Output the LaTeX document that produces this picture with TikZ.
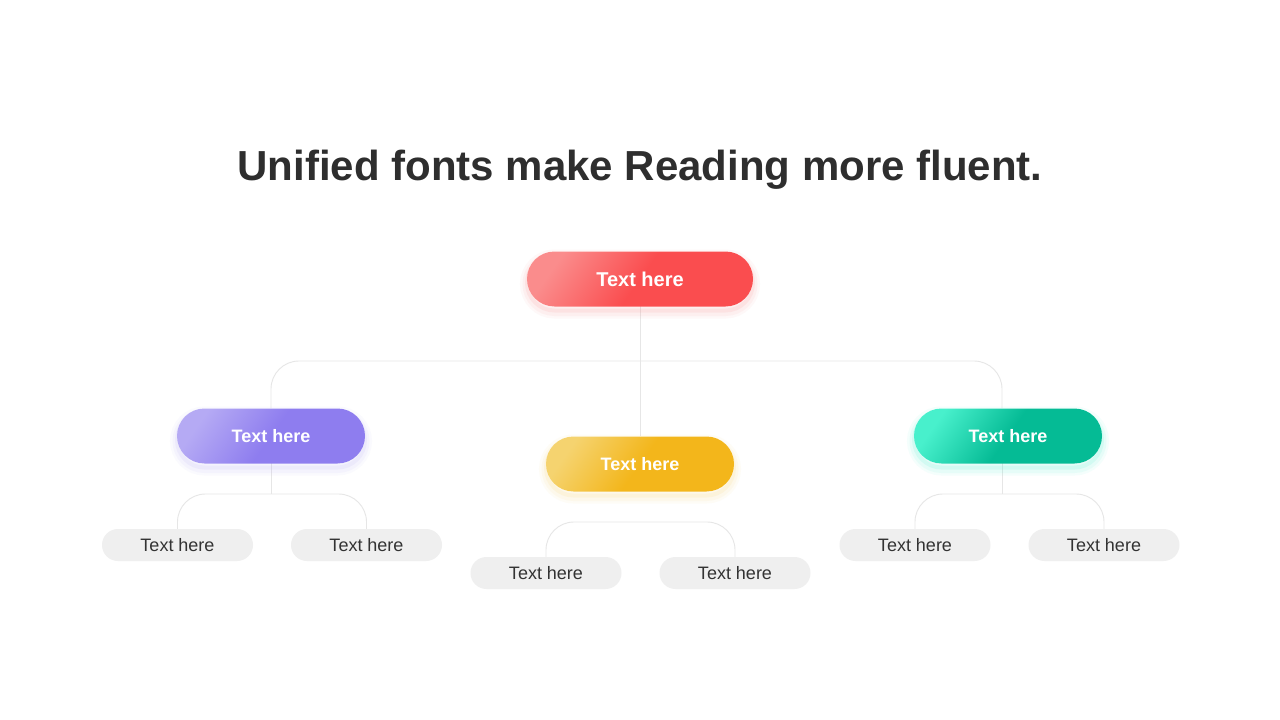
\documentclass[tikz,border=0pt]{standalone}
\usepackage{fontspec}
\setmainfont{Liberation Sans}
\usetikzlibrary{calc}
\definecolor{redL}{HTML}{FA8C8C}
\definecolor{redD}{HTML}{FA4D4F}
\definecolor{purL}{HTML}{B5AAF4}
\definecolor{purD}{HTML}{8E7DEF}
\definecolor{yelL}{HTML}{F5D36F}
\definecolor{yelD}{HTML}{F3B61B}
\definecolor{teaL}{HTML}{48F0CC}
\definecolor{teaD}{HTML}{05BB95}
\definecolor{leafgray}{HTML}{EFEFEF}
\definecolor{linegray}{HTML}{E6E6E6}
\definecolor{txtdark}{HTML}{333333}
\definecolor{titledark}{HTML}{2E2E2E}
\tikzset{
  pill/.style n args={3}{rectangle, rounded corners=27.5pt, minimum height=55pt,
     minimum width=#1, left color=#2, right color=#3, middle color=#3, shading angle=55,
     text=white, font=\bfseries\fontsize{18pt}{20pt}\selectfont,
     preaction={draw=#2, draw opacity=0.06, line width=14pt, transform canvas={yshift=-5pt}},
     preaction={draw=#2, draw opacity=0.08, line width=9pt, transform canvas={yshift=-5pt}},
     preaction={draw=#2, draw opacity=0.12, line width=4pt, transform canvas={yshift=-4pt}}},
  leaf/.style={rectangle, rounded corners=16pt, minimum height=32pt, minimum width=151pt,
     fill=leafgray, text=txtdark, font=\fontsize{18pt}{20pt}\selectfont},
  conn/.style={draw=linegray, line width=0.9pt, rounded corners=28pt},
}
\begin{document}
\begin{tikzpicture}[x=1pt,y=-1pt]
\useasboundingbox[fill=white] (0,0) rectangle (1280,720);
\node[text=titledark, font=\bfseries\fontsize{42pt}{46pt}\selectfont] (title) at (640,170) {Unified fonts make Reading more fluent.};
% connectors
\coordinate (rTop) at (1002,408);
\coordinate (rBot) at (1002,463);
\coordinate (lJ) at (271,494);
\coordinate (rJ) at (1002,494);
\draw[conn] (271,408) -- (271,361) -- (1002,361) -- (rTop);
\draw[conn] (640,306) -- (640,436);
\draw[conn] (271,463) -- (lJ);
\draw[conn] (177.5,529) -- (177.5,494) -- (366.5,494) -- (366.5,529);
\draw[conn] (546,557) -- (546,522) -- (735,522) -- (735,557);
\draw[conn] (rBot) -- (rJ);
\draw[conn] (915,529) -- (915,494) -- (1104,494) -- (1104,529);
% main nodes
\node[pill={226pt}{redL}{redD}, font=\bfseries\fontsize{20pt}{22pt}\selectfont] (T) at (640,279) {Text here};
\node[pill={188pt}{purL}{purD}] (L) at (271,436) {Text here};
\node[pill={188pt}{yelL}{yelD}] (M) at (640,464) {Text here};
\node[pill={188pt}{teaL}{teaD}] (R) at (1008,436) {Text here};
% leaves
\node[leaf] (l1) at (177.5,545) {Text here};
\node[leaf] (l2) at (366.5,545) {Text here};
\node[leaf] (m1) at (546,573) {Text here};
\node[leaf] (m2) at (735,573) {Text here};
\node[leaf] (r1) at (915,545) {Text here};
\node[leaf] (r2) at (1104,545) {Text here};
\end{tikzpicture}
\end{document}
